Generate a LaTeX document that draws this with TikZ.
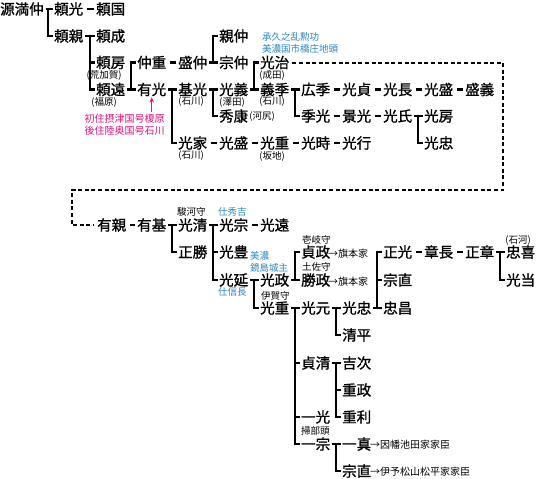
\documentclass[tikz,border=0pt]{standalone}
\usepackage{fontspec}
\setmainfont{Noto Sans CJK JP}
\newfontfamily\namefont{Noto Sans CJK JP}[FakeBold=1.2]
\usepackage{tikz}
\usetikzlibrary{arrows.meta,positioning,calc}
\definecolor{deedblue}{HTML}{2A86C4}
\definecolor{notepink}{HTML}{E0147C}

\begin{document}
\begin{tikzpicture}[x=1pt, y=-1pt, >=Stealth,
  person/.style={anchor=west, inner sep=0pt, font=\namefont\fontsize{14.5}{16}\selectfont},
  paren/.style={inner sep=0pt, font=\fontsize{9.5}{10}\selectfont},
  office/.style={anchor=west, inner sep=0pt, font=\fontsize{9.5}{10}\selectfont},
  deed/.style={anchor=west, inner sep=0pt, text=deedblue, font=\fontsize{9.5}{11}\selectfont},
  fate/.style={anchor=west, inner sep=0pt, font=\fontsize{10}{11}\selectfont},
  link/.style={line width=2.4pt},
  lineage/.style={line width=2pt, dash pattern=on 4pt off 2.6pt}]

\useasboundingbox (0,0) rectangle (538,479);

% ---------- upper tree
\node[person] (mitsunaka) at (0,9) {源満仲};
\node[person] (yorimitsu) at (54,9) {頼光};
\node[person] (yorikuni) at (96,9) {頼国};
\node[person] (yorichika) at (54,36) {頼親};
\node[person] (yorinari) at (96,36) {頼成};
\node[person] (yorifusa) at (96,62.5) {頼房};
\node[person] (yorito) at (96,89.5) {頼遠};
\node[person] (nakashige) at (137,62.5) {仲重};
\node[person] (arimitsu) at (137,89.5) {有光};
\node[person] (morinaka) at (178,62.5) {盛仲};
\node[person] (motomitsu) at (178,89.5) {基光};
\node[person] (mitsuie) at (178,143) {光家};
\node[person] (chikanaka) at (219,36) {親仲};
\node[person] (munenaka) at (219,62.5) {宗仲};
\node[person] (mitsuyoshi) at (219,89.5) {光義};
\node[person] (hideyasu) at (219,116) {秀康};
\node[person] (mitsumori) at (219,143) {光盛};
\node[person] (mitsuharu) at (260,62.5) {光治};
\node[person] (yoshisue) at (260,89.5) {義季};
\node[person] (mitsushige) at (260,143) {光重};
\node[person] (hirosue) at (301,89.5) {広季};
\node[person] (suemitsu) at (301,116) {季光};
\node[person] (mitsutoki) at (301,143) {光時};
\node[person] (mitsusada) at (342,89.5) {光貞};
\node[person] (kagemitsu) at (342,116) {景光};
\node[person] (mitsuyuki) at (342,143) {光行};
\node[person] (mitsunaga) at (383,89.5) {光長};
\node[person] (mitsuuji) at (383,116) {光氏};
\node[person] (mitsumoriB) at (424,89.5) {光盛};
\node[person] (mitsufusa) at (424,116) {光房};
\node[person] (mitsutada) at (424,143) {光忠};
\node[person] (moriyoshi) at (465,89.5) {盛義};

\node[paren] (arakaga) at (104,75.5) {(荒加賀)};
\node[paren] (fukuhara) at (104,102) {(福原)};
\node[paren] (ishikawaA) at (191,102) {(石川)};
\node[paren] (sawada) at (232,102) {(澤田)};
\node[paren] (ishikawaB) at (272,102) {(石川)};
\node[paren] (narita) at (272,75.5) {(成田)};
\node[paren] (kawajiri) at (262,117) {(河尻)};
\node[paren] (ishikawaC) at (191,156) {(石川)};
\node[paren] (sakachi) at (272,156.5) {(坂地)};
\node[deed] (jokyu) at (262,37) {承久之乱勲功};
\node[deed] (ichihashi) at (262,48.5) {美濃国市橋庄地頭};
\node[inner sep=0pt, text=notepink, align=left, font=\fontsize{10}{11.5}\selectfont]
  (settle) at (124.5,124.5) {初住摂津国号榎原\\後住陸奥国号石川};
\draw[notepink, line width=1.2pt, -{Stealth[length=5pt, width=4.5pt]}]
  ($(arimitsu.south |- settle.north)+(0,-2)$) -- ($(arimitsu.south)+(0,1)$);

% ---------- lower tree
\node[person] (arichika) at (97,225) {有親};
\node[person] (arimoto) at (137,225) {有基};
\node[person] (mitsukiyo) at (178,225) {光清};
\node[person] (masakatsu) at (178,252) {正勝};
\node[person] (mitsumune) at (219,225) {光宗};
\node[person] (mitsutoyo) at (219,252) {光豊};
\node[person] (mitsunobu) at (219,280) {光延};
\node[person] (mitsutou) at (260,225) {光遠};
\node[person] (mitsumasa) at (260,280) {光政};
\node[person] (mitsushigeB) at (260,308) {光重};
\node[person] (sadamasa) at (301,252) {貞政};
\node[person] (katsumasa) at (301,280) {勝政};
\node[person] (mitsumoto) at (301,308) {光元};
\node[person] (sadakiyo) at (301,363) {貞清};
\node[person] (kazumitsu) at (301,417) {一光};
\node[person] (kazumune) at (301,444) {一宗};
\node[person] (mitsutadaB) at (342,308) {光忠};
\node[person] (kiyohira) at (342,335) {清平};
\node[person] (yoshitsugu) at (342,363) {吉次};
\node[person] (shigemasa) at (342,390) {重政};
\node[person] (shigetoshi) at (342,417) {重利};
\node[person] (kazuzane) at (342,444) {一真};
\node[person] (munenaoB) at (342,471) {宗直};
\node[person] (masamitsu) at (383,252) {正光};
\node[person] (munenao) at (383,280) {宗直};
\node[person] (tadamasa) at (383,308) {忠昌};
\node[person] (akinaga) at (424,252) {章長};
\node[person] (masaaki) at (465,252) {正章};
\node[person] (tadayoshi) at (506,252) {忠喜};
\node[person] (mitsuatari) at (506,280) {光当};

\node[office] (suruga) at (177,212) {駿河守};
\node[deed] (hideyoshi) at (218,212) {仕秀吉};
\node[deed] (mino) at (250,256) {美濃};
\node[deed] (kagami) at (250,267.5) {鏡島城主};
\node[deed] (nobunaga) at (218,292) {仕信長};
\node[office] (iga) at (261,295.5) {伊賀守};
\node[office] (iki) at (302,240) {壱岐守};
\node[office] (tosa) at (302,267) {土佐守};
\node[fate] (hatamotoA) at (328,253.5) {→旗本家};
\node[fate] (hatamotoB) at (328,281.5) {→旗本家};
\node[paren] (ishiko) at (518,241) {(石河)};
\node[office] (kamon) at (301,431) {掃部頭};
\node[fate] (ikeda) at (370,445) {→因幡池田家家臣};
\node[fate] (matsudaira) at (370,472) {→伊予松山松平家家臣};

% ---------- connectors
\foreach \a/\b in {yorimitsu/yorikuni, nakashige/morinaka, mitsuie/mitsumori,
    mitsumori/mitsushige, mitsushige/mitsutoki, mitsutoki/mitsuyuki,
    hirosue/mitsusada, mitsusada/mitsunaga, mitsunaga/mitsumoriB,
    mitsumoriB/moriyoshi, suemitsu/kagemitsu, kagemitsu/mitsuuji,
    arichika/arimoto, mitsumune/mitsutou, masamitsu/akinaga, akinaga/masaaki}
  \draw[link] ($(\a.east)+(4,0)$) -- ($(\b.west)+(-2,0)$);

\foreach \a/\b in {mitsunaka/yorimitsu, yorichika/yorinari, yorito/arimitsu,
    morinaka/munenaka, arimitsu/motomitsu, motomitsu/mitsuyoshi,
    mitsuyoshi/yoshisue, yoshisue/hirosue, mitsuuji/mitsufusa,
    arimoto/mitsukiyo, mitsukiyo/mitsumune, mitsunobu/mitsumasa,
    mitsumasa/katsumasa, mitsushigeB/mitsumoto, mitsumoto/mitsutadaB,
    mitsutadaB/tadamasa, masaaki/tadayoshi, sadakiyo/yoshitsugu, kazumune/kazuzane}
  \draw[link] ($(\a.east)+(2,0)$) -- ($(\b.west)+(-1.5,0)$);

\foreach \t/\b in {yorimitsu/yorichika, yorinari/yorito, nakashige/arimitsu,
    chikanaka/munenaka, motomitsu/mitsuie, mitsuyoshi/hideyasu,
    mitsuharu/yoshisue, hirosue/suemitsu, mitsufusa/mitsutada,
    mitsukiyo/masakatsu, mitsumune/mitsunobu, mitsumasa/mitsushigeB,
    sadamasa/katsumasa, mitsumoto/kazumune, mitsutadaB/kiyohira,
    masamitsu/tadamasa, tadayoshi/mitsuatari, yoshitsugu/shigetoshi,
    kazuzane/munenaoB}
  \draw[link] ($(\t.west)+(-1.5,0)$) -- ++(-4.5,0) |- ($(\b.west)+(-1.5,0)$);

\foreach \m in {yorifusa, mitsutoyo, sadakiyo, kazumitsu, munenao, shigemasa}
  \draw[link] ($(\m.west)+(-1.5,0)$) -- ++(-4.5,0);

% dotted line of descent
\coordinate (bendR) at (503,190);
\coordinate (bendL) at (72,190);
\draw[lineage] ($(mitsuharu.east)+(3,0)$) -| (bendR) -- (bendL) |- ($(arichika.west)+(-4,0)$);

\end{tikzpicture}
\end{document}
